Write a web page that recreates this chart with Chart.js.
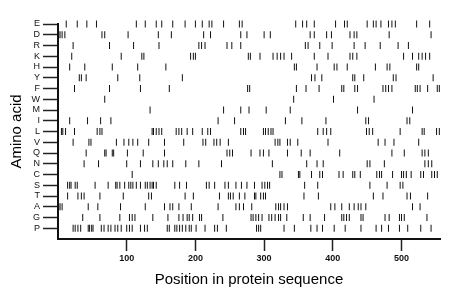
<!DOCTYPE html>
<html>
<head>
<meta charset="utf-8">
<script src="https://cdn.jsdelivr.net/npm/chart.js@4.4.0/dist/chart.umd.min.js"></script>
<style>
  body { margin: 0; background: #fff; }
</style>
</head>
<body>
<canvas id="aaChart" width="460" height="299"></canvas>
<script>
// Amino acids top to bottom, and where each one occurs in the sequence
const aminoAcids = ['E', 'D', 'R', 'K', 'H', 'Y', 'F', 'W', 'M', 'I', 'L', 'V', 'Q', 'N', 'C', 'S', 'T', 'A', 'G', 'P'];

const posE = [12, 28, 42, 56, 114, 127, 143, 151, 167, 185, 200, 210, 220, 224, 241, 264, 268, 346, 356, 362, 373, 404, 417, 421, 450, 459, 463, 470, 481, 486, 491, 522, 541];
const posD = [1, 3, 6, 10, 64, 68, 102, 146, 165, 212, 222, 266, 275, 300, 309, 367, 373, 391, 398, 425, 431, 435, 482, 543];
const posR = [22, 75, 110, 147, 205, 209, 214, 246, 253, 266, 360, 364, 381, 399, 431, 447, 469, 495, 510];
const posK = [20, 92, 122, 125, 193, 197, 200, 277, 280, 294, 313, 319, 324, 329, 340, 373, 393, 425, 429, 435, 503, 516, 525, 530, 535, 541];
const posH = [17, 39, 79, 116, 157, 344, 347, 377, 402, 406, 421, 462, 479, 483, 522, 525];
const posY = [31, 34, 41, 87, 119, 181, 369, 374, 384, 429, 432, 445, 488, 492, 546];
const posF = [24, 75, 120, 162, 276, 279, 347, 361, 380, 413, 416, 432, 436, 473, 477, 481, 486, 520, 523, 527, 538, 552, 555];
const posW = [68, 343, 401, 460];
const posM = [134, 241, 266, 278, 303, 338, 436, 516];
const posI = [17, 43, 62, 77, 233, 257, 331, 355, 390, 448, 452, 508, 512];
const posL = [5, 7, 11, 24, 57, 61, 64, 137, 139, 143, 147, 151, 172, 176, 180, 188, 196, 210, 218, 222, 266, 270, 273, 299, 302, 306, 310, 313, 378, 386, 391, 397, 449, 453, 458, 498, 530, 533, 551, 555];
const posV = [22, 45, 48, 85, 96, 103, 109, 116, 132, 155, 183, 211, 215, 227, 231, 236, 248, 316, 320, 323, 334, 338, 349, 393, 466, 476, 489, 525];
const posQ = [41, 68, 70, 79, 81, 101, 124, 155, 246, 250, 254, 281, 294, 299, 307, 334, 354, 367, 410, 486, 504, 530, 534, 539];
const posN = [38, 59, 100, 120, 138, 146, 154, 159, 167, 186, 205, 238, 312, 362, 377, 386, 450, 454, 475, 534, 539, 544];
const posC = [108, 323, 326, 350, 352, 369, 381, 385, 409, 415, 429, 432, 440, 464, 468, 471, 487, 500, 503, 507, 514, 528, 532, 544, 548, 552];
const posS = [14, 17, 19, 25, 28, 54, 73, 84, 86, 90, 97, 103, 106, 109, 114, 120, 127, 130, 134, 137, 139, 143, 170, 177, 187, 216, 220, 228, 243, 248, 259, 267, 275, 286, 297, 301, 305, 308, 359, 378, 454, 479, 498, 502];
const posT = [14, 29, 34, 38, 61, 95, 132, 136, 185, 197, 235, 248, 251, 255, 264, 272, 286, 288, 295, 299, 302, 358, 379, 459, 473, 508, 513, 538];
const posA = [1, 3, 6, 44, 58, 91, 127, 155, 163, 167, 176, 194, 233, 259, 264, 270, 282, 317, 321, 324, 329, 334, 397, 403, 413, 424, 431, 437, 441, 448, 516, 527];
const posG = [36, 61, 90, 104, 108, 112, 138, 160, 176, 182, 188, 191, 196, 206, 209, 240, 281, 284, 288, 292, 297, 307, 311, 316, 321, 324, 333, 357, 367, 388, 413, 416, 420, 424, 441, 444, 476, 482, 497, 500, 504, 537];
const posP = [22, 25, 29, 33, 44, 46, 49, 51, 63, 67, 73, 77, 83, 87, 92, 100, 104, 108, 120, 126, 130, 159, 162, 170, 173, 177, 181, 186, 191, 194, 201, 214, 228, 232, 245, 289, 292, 295, 329, 344, 368, 377, 385, 402, 418, 441, 463, 471, 481, 497, 509, 528, 543];

const sitesByAcid = [posE, posD, posR, posK, posH, posY, posF, posW, posM, posI, posL, posV, posQ, posN, posC, posS, posT, posA, posG, posP];
const xTicks = [100, 200, 300, 400, 500];
const seqLength = 556;

const fontFamily = '"Liberation Sans", Arial, Helvetica, sans-serif';
const nRows = aminoAcids.length;

// one scatter dataset per amino acid; row value counts down so E sits on top
const datasets = aminoAcids.map((aa, i) => ({
    label: aa,
    data: sitesByAcid[i].map(p => ({ x: p, y: nRows - i })),
    pointStyle: 'line',
    rotation: 90,
    radius: 3.5,
    borderWidth: 1,
    borderColor: '#111',
    backgroundColor: '#111',
    clip: false
}));

new Chart(document.getElementById('aaChart').getContext('2d'), {
    type: 'scatter',
    data: { datasets: datasets },
    options: {
        responsive: false,
        animation: false,
        events: [],
        layout: { padding: { top: 24, right: 20, left: 0, bottom: 0 } },
        plugins: {
            legend: { display: false },
            tooltip: { enabled: false }
        },
        scales: {
            x: {
                type: 'linear',
                min: 0,
                max: seqLength,
                afterFit: s => { s.height = 60; },
                afterBuildTicks: s => { s.ticks = xTicks.map(v => ({ value: v })); },
                border: { display: true, color: '#111', width: 2 },
                grid: { drawOnChartArea: false, drawTicks: true, tickLength: 12, color: '#222', tickWidth: 1.5 },
                ticks: {
                    padding: 2,
                    color: '#111',
                    maxRotation: 0,
                    font: { family: fontFamily, size: 9, weight: 'bold' }
                },
                title: {
                    display: true,
                    text: 'Position in protein sequence',
                    color: '#000',
                    padding: { top: 0, bottom: 10 },
                    font: { family: fontFamily, size: 15 }
                }
            },
            y: {
                type: 'linear',
                min: 0,
                max: nRows,
                afterFit: s => { s.width = 58; },
                afterBuildTicks: s => {
                    s.ticks = aminoAcids.map((aa, i) => ({ value: nRows - i }));
                },
                border: { display: true, color: '#111', width: 2 },
                grid: { drawOnChartArea: false, drawTicks: true, tickLength: 15, color: '#222', tickWidth: 1.5 },
                ticks: {
                    padding: 3,
                    color: '#111',
                    autoSkip: false,
                    font: { family: fontFamily, size: 9 },
                    callback: v => aminoAcids[nRows - v]
                },
                title: {
                    display: true,
                    text: 'Amino acid',
                    color: '#000',
                    padding: { top: 8, bottom: 0 },
                    font: { family: fontFamily, size: 15 }
                }
            }
        }
    }
});
</script>
</body>
</html>
